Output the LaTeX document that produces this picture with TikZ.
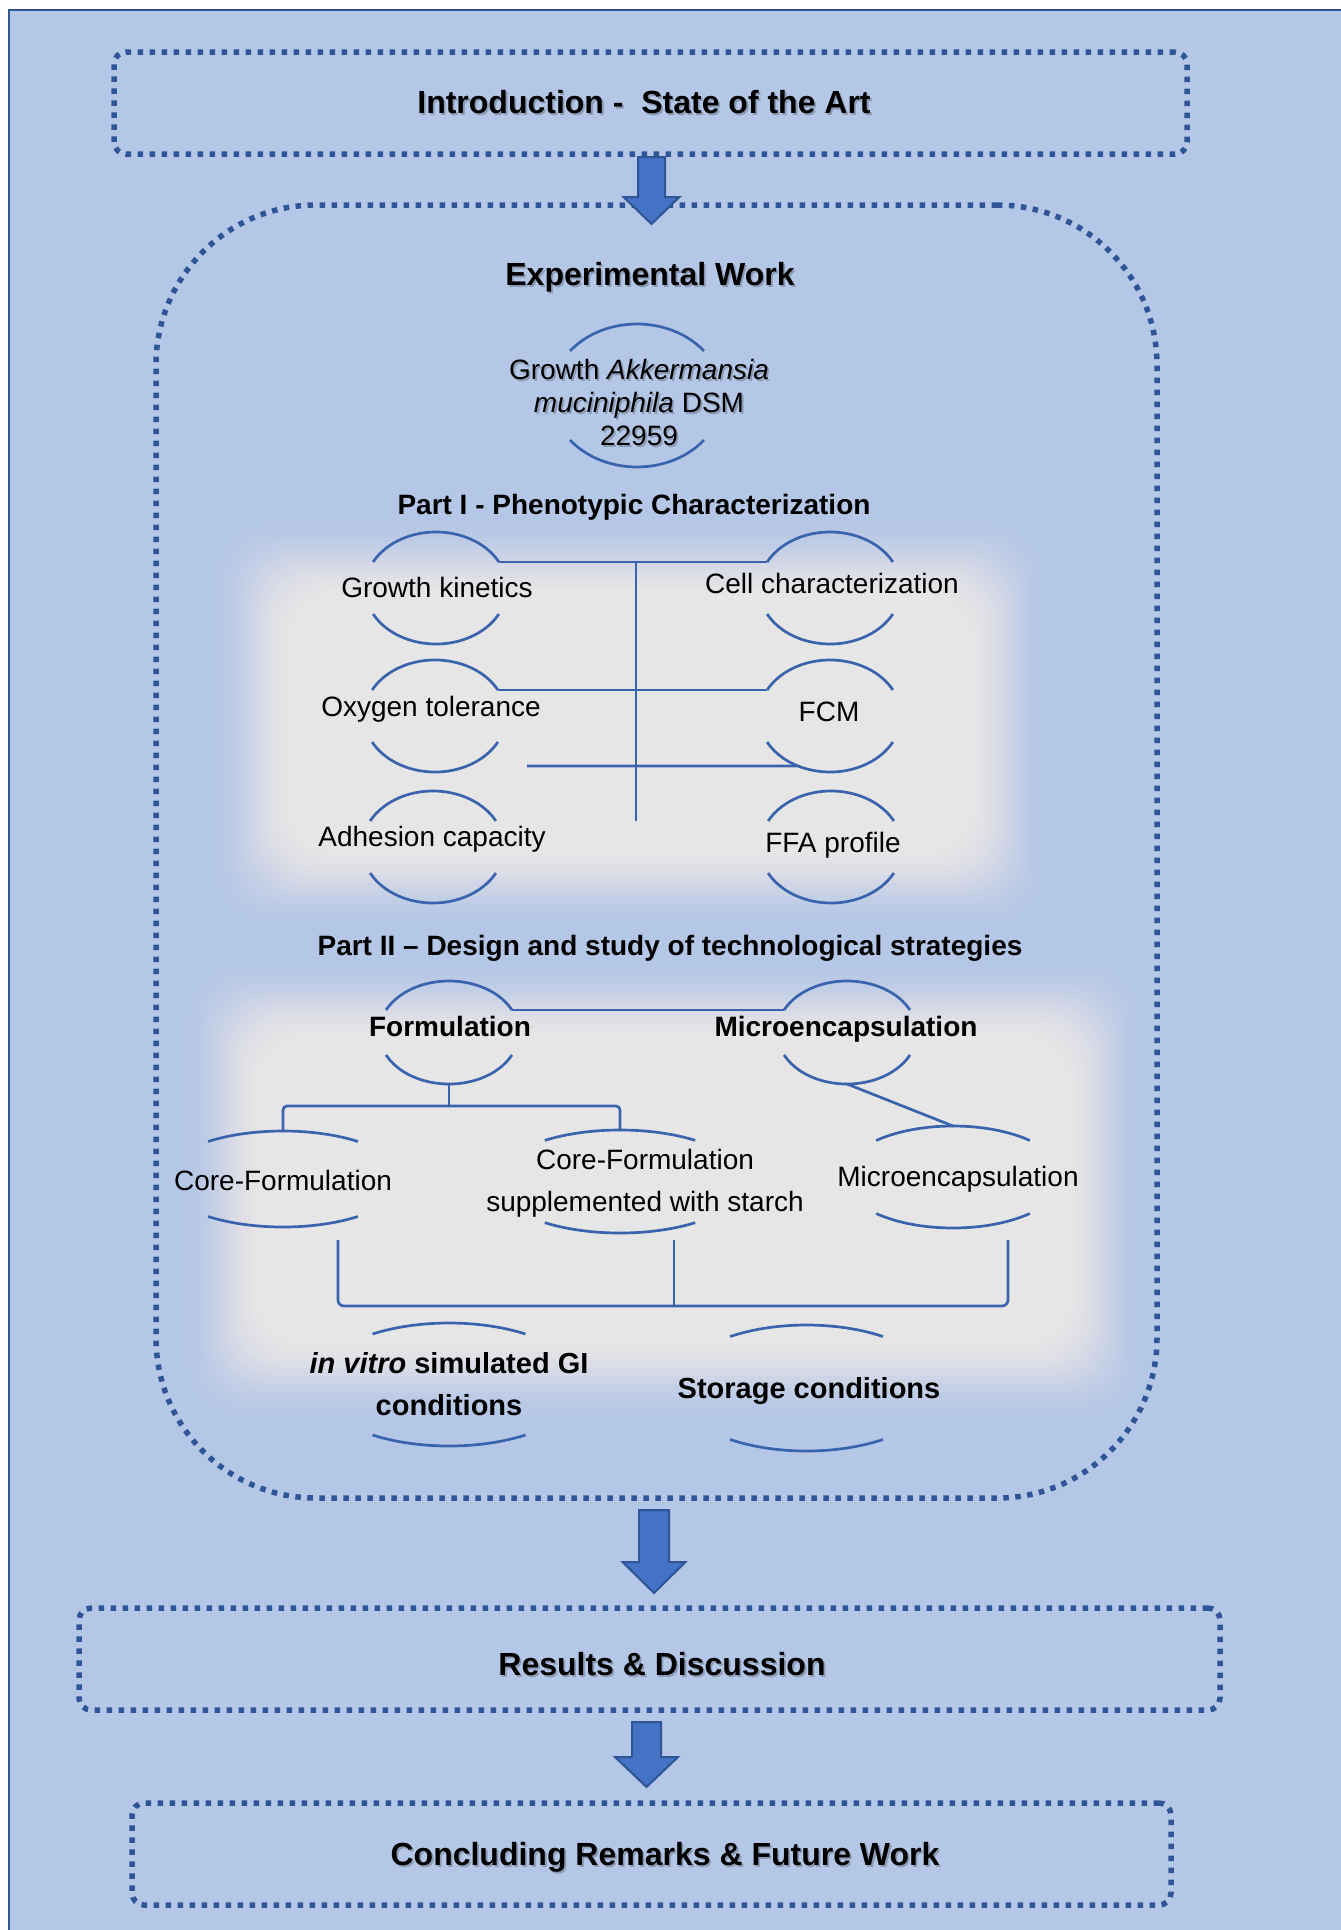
\documentclass[tikz,border=0pt]{standalone}
\usepackage{fontspec}
\setmainfont{Liberation Sans}
\usetikzlibrary{calc,shapes.geometric}
\definecolor{bgblue}{HTML}{B4C7E7}
\definecolor{dotblue}{HTML}{2F5597}
\definecolor{arrowfill}{HTML}{4472C4}
\definecolor{linkblue}{HTML}{3A63AD}
\definecolor{panelgrey}{HTML}{E7E6E6}
\tikzset{
  dotbox/.style={draw=dotblue, line width=5.5pt, dash pattern=on 5.5pt off 6.5pt, inner sep=0pt},
  arcline/.style={draw=linkblue, line width=2.7pt},
  link/.style={draw=linkblue, line width=2.7pt},
  blockarrow/.style={fill=arrowfill, draw=dotblue, line width=2pt, line join=miter},
  title/.style={font=\fontsize{32}{38}\selectfont\bfseries, inner sep=0pt},
  parttitle/.style={font=\fontsize{28}{33}\selectfont\bfseries, inner sep=0pt},
  lbl/.style={font=\fontsize{28}{33}\selectfont, align=center, inner sep=0pt},
  blbl/.style={font=\fontsize{28}{33}\selectfont\bfseries, align=center, inner sep=0pt},
}
% name, cx, cy, a, b, t
\newcommand\arcshape[6]{%
  \coordinate (#1) at (#2,-#3);
  \coordinate (#1-tr) at ($(#1)+(#6:#4 and #5)$);
  \coordinate (#1-tl) at ($(#1)+(180-#6:#4 and #5)$);
  \coordinate (#1-bl) at ($(#1)+(180+#6:#4 and #5)$);
  \coordinate (#1-br) at ($(#1)+(-#6:#4 and #5)$);
  \coordinate (#1-t) at ($(#1)+(0,#5)$);
  \coordinate (#1-b) at ($(#1)+(0,-#5)$);
  \draw[arcline] (#1-tr) arc[start angle=#6, end angle=180-#6, x radius=#4pt, y radius=#5pt];
  \draw[arcline] (#1-bl) arc[start angle=180+#6, end angle=360-#6, x radius=#4pt, y radius=#5pt];
}
% cx, top, headstart, tip, shafthalf, headhalf
\newcommand\blockdown[6]{%
  \draw[blockarrow] (#1-#5,-#2) -- (#1+#5,-#2) -- (#1+#5,-#3) -- (#1+#6,-#3) -- (#1,-#4)
     -- (#1-#6,-#3) -- (#1-#5,-#3) -- cycle;
}
% x1,y1,x2,y2 : centre line of the soft edge
\newcommand\softpanel[4]{%
  \foreach \k in {0,...,19}{%
    \pgfmathsetmacro\spa{(\k+1)/20}%
    \pgfmathsetmacro\spb{\k/20}%
    \pgfmathsetmacro\cuma{3*\spa*\spa-2*\spa*\spa*\spa}%
    \pgfmathsetmacro\cumb{3*\spb*\spb-2*\spb*\spb*\spb}%
    \pgfmathsetmacro\op{min(1,(\cuma-\cumb)/(1-\cumb))}%
    \pgfmathsetmacro\ins{-38+4*\k}%
    \pgfmathsetmacro\xa{#1+(\ins)}%
    \pgfmathsetmacro\xb{#3-(\ins)}%
    \pgfmathsetmacro\ya{-#2-(\ins)}%
    \pgfmathsetmacro\yb{-#4+(\ins)}%
    \fill[panelgrey, fill opacity=\op, rounded corners=50pt] (\xa,\ya) rectangle (\xb,\yb);
  }%
}
% shadowed text: name, x, y, style, text
\newcommand\shtext[5]{%
  \node[#4, text=black, opacity=0.22] at (#2+1.8,-#3-1.8) {#5};
  \node[#4] (#1) at (#2,-#3) {#5};
}
\begin{document}
\begin{tikzpicture}[x=1pt,y=1pt]
\useasboundingbox (0,0) rectangle (1341,-1930);
\clip (0,0) rectangle (1341,-1930);
\fill[white] (0,0) rectangle (1341,-1930);
\fill[bgblue] (9,-10) rectangle (1360,-1950);
\draw[dotblue, line width=2.5pt] (9,-1950) -- (9,-10) -- (1360,-10);

% soft grey panels
\softpanel{250}{556}{1010}{890}
\softpanel{220}{998}{1107}{1382}

% dotted frames
\node[dotbox, rounded corners=12pt, minimum width=1073pt, minimum height=102pt] (intro) at (650.5,-103) {};
\node[dotbox, rounded corners=160pt, minimum width=1001pt, minimum height=1293pt] (exp) at (656.5,-851.5) {};
\node[dotbox, rounded corners=12pt, minimum width=1141pt, minimum height=102pt] (res) at (649.5,-1659) {};
\node[dotbox, rounded corners=12pt, minimum width=1039pt, minimum height=102pt] (concl) at (651.5,-1854) {};

% block arrows
\blockdown{651.5}{157}{197}{224}{13.5}{28}
\blockdown{654}{1510}{1562}{1593}{15}{31.5}
\blockdown{646.5}{1722}{1757}{1787}{14.5}{31.5}

% titles
\shtext{intro-l}{644}{102}{title}{Introduction -~ State of the Art}
\shtext{exp-l}{650}{277}{title}{Experimental Work}
\shtext{res-l}{662}{1664}{title}{Results \& Discussion}
\shtext{concl-l}{665}{1857}{title}{Concluding Remarks \& Future Work}
\node[parttitle] (p1-l) at (634,-507) {Part I - Phenotypic Characterization};
\node[parttitle] (p2-l) at (670,-948) {Part II – Design and study of technological strategies};

% growth node
\arcshape{gam}{637}{395.5}{85.6}{71.5}{38.5}
\shtext{gam-l}{639}{402.5}{lbl}{Growth \textit{Akkermansia}\\\textit{muciniphila} DSM\\22959}

% Part I
\arcshape{gk}{436}{588}{71}{56}{27.7}
\arcshape{cc}{830}{588}{71}{56}{27.7}
\arcshape{ot}{435}{716}{71}{56}{27.7}
\arcshape{fcm}{830}{716}{71}{56}{27.7}
\arcshape{ac}{433}{847}{71}{56}{27.7}
\arcshape{ffa}{831}{847}{71}{56}{27.7}
\node[lbl] (gk-l) at (437,-587) {Growth kinetics};
\node[lbl] (cc-l) at (832,-583) {Cell characterization};
\node[lbl] (ot-l) at (431,-709) {Oxygen tolerance};
\node[lbl] (fcm-l) at (829,-712) {FCM};
\node[lbl] (ac-l) at (432,-839) {Adhesion capacity};
\node[lbl] (ffa-l) at (833,-845) {FFA profile};

\draw[link] (gk-tr) -- (cc-tl);
\coordinate (trunk-b) at (636,-821);
\draw[link] (trunk-b |- gk-tr) -- (trunk-b);
\draw[link] (ot-tr) -- (fcm-tl);
\coordinate (l3) at (527,-766);
\coordinate (fcm-x) at ($(fcm)+(243:71 and 56)$);
\draw[link] (l3) -- (fcm-x);

% Part II
\arcshape{form}{449}{1032.5}{70}{51.5}{25.9}
\arcshape{micro}{847}{1032.5}{70}{51.5}{25.9}
\arcshape{cf}{283}{1179}{120}{48}{51.4}
\arcshape{cfs}{620}{1181.5}{125}{51.5}{53}
\arcshape{mc}{953}{1177}{110}{51}{45.7}
\arcshape{iv}{449}{1384.5}{134}{61.5}{55.2}
\arcshape{sc}{806.5}{1388}{132.6}{63}{54.8}

\node[blbl] (form-l) at (450,-1026) {Formulation};
\node[blbl] (micro-l) at (846,-1029) {Microencapsulation};
\node[lbl] (cf-l) at (283,-1180) {Core-Formulation};
\node[lbl, font=\fontsize{28}{42}\selectfont] (cfs-l) at (645,-1183) {Core-Formulation\\supplemented with starch};
\node[lbl] (mc-l) at (958,-1179) {Microencapsulation};
\node[blbl, font=\fontsize{29}{42}\selectfont\bfseries] (iv-l) at (449,-1384) {\textit{in vitro} simulated GI\\conditions};
\node[blbl, font=\fontsize{29}{42}\selectfont\bfseries] (sc-l) at (809,-1391) {Storage conditions};

\draw[link] (form-tr) -- (micro-tl);
\coordinate (fbar) at (449,-1106);
\draw[link] (form-b) -- (fbar);
\draw[link, rounded corners=4pt] (cf-t) |- (fbar) -| (cfs-t);
\draw[link] (micro-b) -- (mc-t);

\coordinate (b1) at (338,-1240);
\coordinate (b2) at (674,-1240);
\coordinate (b3) at (1008,-1240);
\coordinate (bl) at (338,-1306);
\draw[link, rounded corners=6pt] (b1) |- (bl -| b3) -- (b3);
\draw[link] (b2) -- (b2 |- bl);
\end{tikzpicture}
\end{document}
